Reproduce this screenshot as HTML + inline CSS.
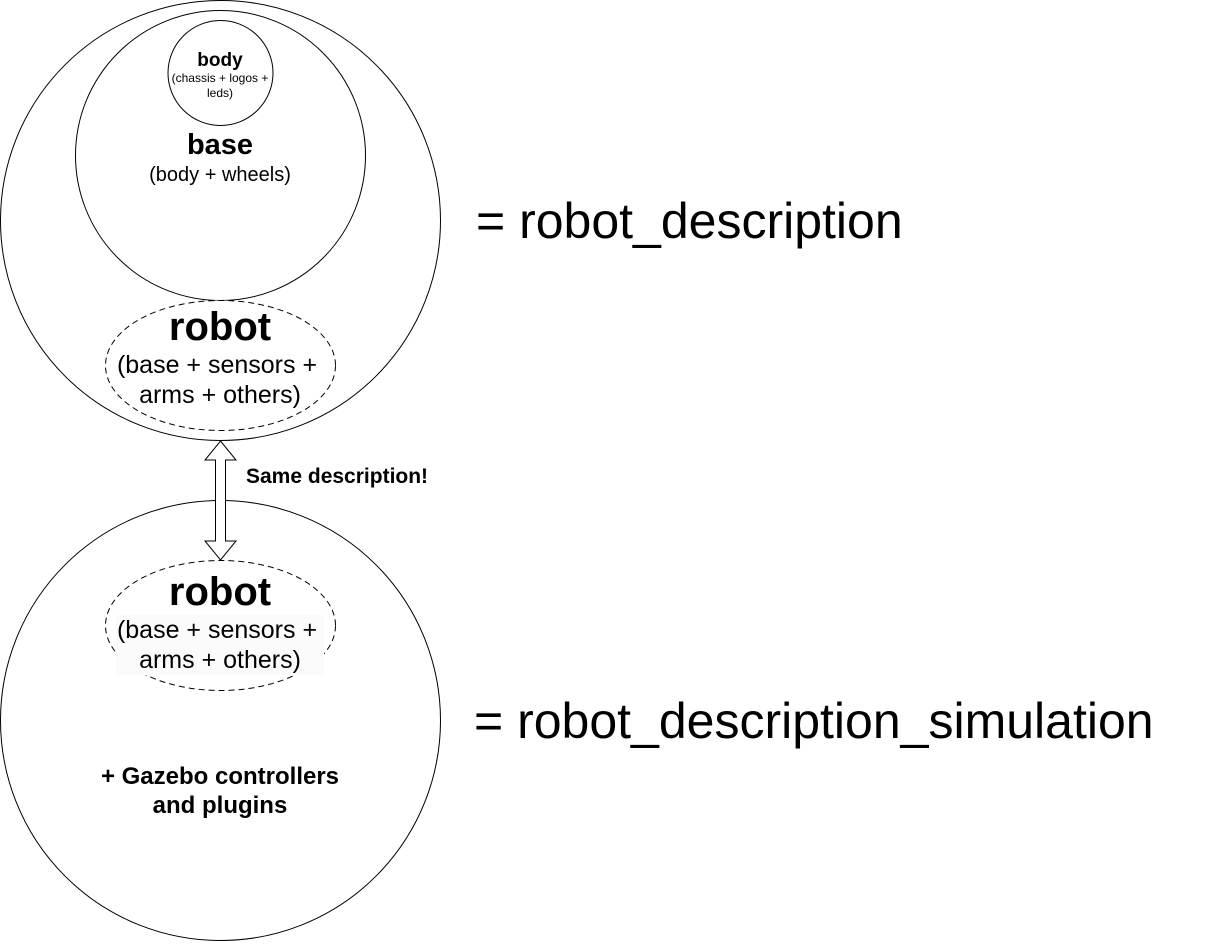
<!DOCTYPE html>
<html><head><style>
html,body{margin:0;padding:0;background:#fff;}
svg text{font-family:"Liberation Sans",sans-serif;}
</style></head><body>
<svg width="1216" height="942" xmlns="http://www.w3.org/2000/svg">
<circle cx="220.5" cy="220.5" r="220" fill="#fff" stroke="#000"/>
<circle cx="220.5" cy="155.5" r="145" fill="#fff" stroke="#000"/>
<circle cx="220.5" cy="73" r="52.5" fill="#fff" stroke="#000"/>
<text x="220" y="66" text-anchor="middle" font-size="19" font-weight="bold">body</text>
<text x="220" y="82" text-anchor="middle" font-size="12">(chassis + logos +</text>
<text x="220" y="97" text-anchor="middle" font-size="12">leds)</text>
<text x="220" y="154" text-anchor="middle" font-size="29" font-weight="bold">base</text>
<text x="220" y="181" text-anchor="middle" font-size="20">(body + wheels)</text>
<ellipse cx="220.5" cy="365.5" rx="115" ry="65" fill="#fff" stroke="#000" stroke-dasharray="6,4"/>
<text x="220" y="340" text-anchor="middle" font-size="40" font-weight="bold">robot</text>
<text x="217" y="373" text-anchor="middle" font-size="25">(base + sensors +</text>
<text x="220" y="403" text-anchor="middle" font-size="25">arms + others)</text>
<text x="476" y="238" font-size="50">= robot_description</text>

<circle cx="220.5" cy="720.5" r="220" fill="#fff" stroke="#000"/>
<ellipse cx="220.5" cy="625.5" rx="115" ry="65" fill="#fff" stroke="#000" stroke-dasharray="6,4"/>
<rect x="116" y="615" width="208" height="60" fill="#fbfbfb"/>
<text x="220" y="605" text-anchor="middle" font-size="40" font-weight="bold">robot</text>
<text x="217" y="638" text-anchor="middle" font-size="25">(base + sensors +</text>
<text x="220" y="668" text-anchor="middle" font-size="25">arms + others)</text>
<text x="220" y="784" text-anchor="middle" font-size="24" font-weight="bold">+ Gazebo controllers</text>
<text x="220" y="813" text-anchor="middle" font-size="24" font-weight="bold">and plugins</text>
<text x="474" y="738" font-size="50">= robot_description_simulation</text>

<path d="M220.5 441 L236 460 L225.5 460 L225.5 541 L236 541 L220.5 560 L205 541 L215.5 541 L215.5 460 L205 460 Z" fill="#fff" stroke="#000"/>
<text x="246" y="483" font-size="21" font-weight="bold">Same description!</text>
</svg>
</body></html>
